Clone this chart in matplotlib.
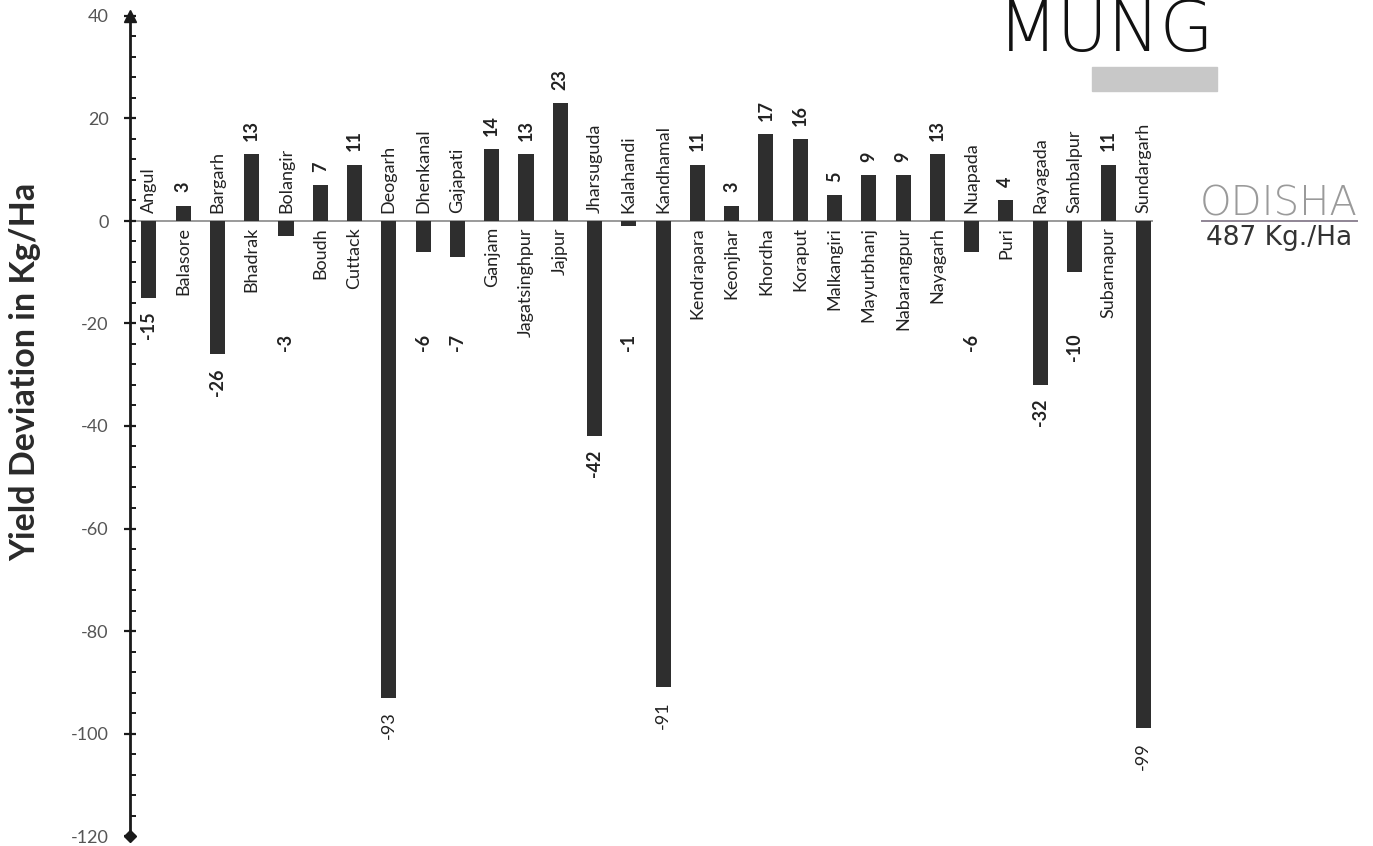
import matplotlib
matplotlib.use("Agg")
import matplotlib.pyplot as plt
from matplotlib.ticker import MultipleLocator
from matplotlib.patches import Rectangle
from matplotlib.lines import Line2D

districts = ["Angul", "Balasore", "Bargarh", "Bhadrak", "Bolangir", "Boudh", "Cuttack",
             "Deogarh", "Dhenkanal", "Gajapati", "Ganjam", "Jagatsinghpur", "Jajpur",
             "Jharsuguda", "Kalahandi", "Kandhamal", "Kendrapara", "Keonjhar", "Khordha",
             "Koraput", "Malkangiri", "Mayurbhanj", "Nabarangpur", "Nayagarh", "Nuapada",
             "Puri", "Rayagada", "Sambalpur", "Subarnapur", "Sundargarh"]
deviation = [-15, 3, -26, 13, -3, 7, 11, -93, -6, -7, 14, 13, 23, -42, -1, -91, 11, 3,
             17, 16, 5, 9, 9, 13, -6, 4, -32, -10, 11, -99]
yticks = [40, 20, 0, -20, -40, -60, -80, -100, -120]
title = "MUNG"
state = "ODISHA"
state_yield = "487 Kg./Ha"
ylabel = "Yield Deviation in Kg/Ha"

W, H = 1373, 846
FONT = "Lato"
plt.rcParams['font.family'] = [FONT, 'DejaVu Sans']

fig = plt.figure(figsize=(W / 100, H / 100), dpi=100)
ax_l, ax_r, ax_t, ax_b = 130, 1153, 16, 836
ax = fig.add_axes([ax_l / W, (H - ax_b) / H, (ax_r - ax_l) / W, (ax_b - ax_t) / H])

x = list(range(len(districts)))
xmin, xmax = -0.55, len(districts) - 1 + 0.29
ax.set_xlim(xmin, xmax)
ax.set_ylim(-120, 40)

ax.axhline(0, color="#9a9a9a", lw=1.4, zorder=1)
ax.bar(x, deviation, width=0.44, color="#2e2e2e", zorder=2)

for i, (name, v) in enumerate(zip(districts, deviation)):
    if v >= 0:
        ax.text(i, -1.2, name, rotation=90, ha="center", va="top", fontsize=13, color="#222222")
        ax.text(i, v + 2.6, str(v), rotation=90, ha="center", va="bottom", fontsize=13,
                fontweight="bold", color="#222222")
    else:
        ax.text(i, 1.5, name, rotation=90, ha="center", va="bottom", fontsize=13, color="#222222")
        big = v <= -90
        ty = v - 2.7 if v <= -12 else -22.0
        ax.text(i, ty, str(v), rotation=90, ha="center", va="top", fontsize=13,
                fontweight="normal" if big else "bold", color="#222222")

for s in ["top", "right", "bottom"]:
    ax.spines[s].set_visible(False)
ax.spines["left"].set_linewidth(2.0)
ax.spines["left"].set_color("#1a1a1a")
ax.set_xticks([])
ax.set_yticks(yticks)
ax.set_yticklabels([str(t) for t in yticks])
ax.yaxis.set_minor_locator(MultipleLocator(4))
ax.tick_params(axis="y", which="major", direction="inout", length=9, width=1.6,
               color="#1a1a1a", labelsize=13, labelcolor="#555555", pad=11)
ax.tick_params(axis="y", which="minor", direction="in", length=4, width=1.4, color="#1a1a1a")

ax.plot([xmin], [40], marker="^", markersize=8, color="#1a1a1a", clip_on=False, zorder=5)
ax.plot([xmin], [-120], marker="D", markersize=6, color="#1a1a1a", clip_on=False, zorder=5)

fig.text(25 / W, 1 - 372 / H, ylabel, rotation=90, ha="center", va="center",
         fontsize=24.5, fontweight="bold", color="#2a2a2a")

# Title block
fig.text(1106 / W, 1 - 51 / H, title, ha="center", va="baseline", fontsize=50,
         fontfamily="DejaVu Sans", fontweight="light", color="#111111")
fig.patches.append(Rectangle((1092 / W, 1 - 91 / H), 125 / W, 24 / H,
                             transform=fig.transFigure, color="#c8c8c8", zorder=1))

fig.text(1279 / W, 1 - 215 / H, state, ha="center", va="baseline", fontsize=29,
         fontfamily="DejaVu Sans", fontweight="light", color="#9a9a9a")
fig.lines.append(Line2D([1202 / W, 1357 / W], [1 - 221 / H, 1 - 221 / H],
                        transform=fig.transFigure, color="#8f8595", lw=1.4))
fig.text(1279 / W, 1 - 245 / H, state_yield, ha="center", va="baseline", fontsize=19,
         fontfamily="DejaVu Sans", color="#333333")

fig.savefig("out.png", dpi=100)
